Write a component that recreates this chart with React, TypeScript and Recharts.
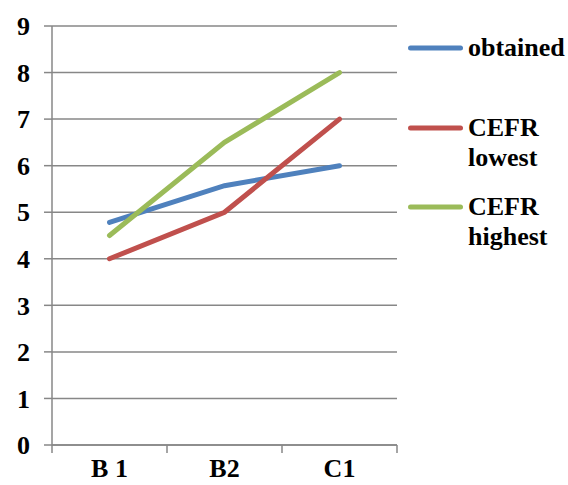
import React from "react";
import { LineChart, Line, XAxis, YAxis, CartesianGrid } from "recharts";

const levels = ["B 1", "B2", "C1"];
const obtained = [4.78, 5.57, 6.0];
const cefrLowest = [4, 5, 7];
const cefrHighest = [4.5, 6.5, 8];
const yTicks = [0, 1, 2, 3, 4, 5, 6, 7, 8, 9];

const series = [
  { key: "obtained", name: "obtained", color: "#4F81BD" },
  { key: "lowest", name: "CEFR lowest", color: "#C0504D" },
  { key: "highest", name: "CEFR highest", color: "#9BBB59" },
];

// each level sits in the middle of its band; band edges get the tick marks
const data = levels.map((level, i) => ({
  level,
  pos: i + 0.5,
  obtained: obtained[i],
  lowest: cefrLowest[i],
  highest: cefrHighest[i],
}));

const xTicks = [0, 0.5, 1, 1.5, 2, 2.5, 3];

const FONT = "'Liberation Serif', 'Times New Roman', serif";
const FONT_SIZE = 26;
const AXIS = "#878787";

const XTick = (props: any) => {
  const { x, y, payload } = props;
  const v = payload.value;
  // y comes in 8px below the axis line
  if (Number.isInteger(v)) {
    return <line x1={x} y1={y - 8} x2={x} y2={y} stroke={AXIS} strokeWidth={1.5} />;
  }
  const label = levels[Math.floor(v)];
  return (
    <text
      x={x}
      y={y + 24}
      textAnchor="middle"
      fontFamily={FONT}
      fontWeight="bold"
      fontSize={FONT_SIZE}
      fill="#000"
    >
      {label}
    </text>
  );
};

const ChartLegend = () => (
  <div style={{ position: "absolute", left: 404, top: 33, width: 164 }}>
    {series.map((s, i) => (
      <div
        key={s.key}
        style={{
          position: "absolute",
          top: i * 79.6,
          left: 0,
          display: "flex",
          alignItems: "flex-start",
        }}
      >
        <svg width={64} height={30} style={{ flex: "none" }}>
          <line x1={6.5} y1={15} x2={56.5} y2={15} stroke={s.color} strokeWidth={5} strokeLinecap="round" />
        </svg>
        <div
          style={{
            width: 100,
            fontFamily: FONT,
            fontWeight: "bold",
            fontSize: FONT_SIZE,
            lineHeight: "30px",
            color: "#000",
          }}
        >
          {s.name}
        </div>
      </div>
    ))}
  </div>
);

export default function App() {
  return (
    <div style={{ position: "absolute", left: 0, top: 0, width: 568, height: 485, background: "#fff", overflow: "hidden" }}>
      <LineChart
        width={568}
        height={485}
        data={data}
        margin={{ top: 26, right: 171, left: 0, bottom: 0 }}
      >
        <CartesianGrid vertical={false} stroke={AXIS} strokeWidth={1.5} />
        <XAxis
          dataKey="pos"
          type="number"
          domain={[0, 3]}
          ticks={xTicks}
          interval={0}
          height={40}
          stroke={AXIS}
          strokeWidth={1.5}
          tickLine={false}
          tick={<XTick />}
        />
        <YAxis
          domain={[0, 9]}
          ticks={yTicks}
          interval={0}
          width={52}
          stroke={AXIS}
          strokeWidth={1.5}
          tickSize={8}
          tickMargin={14}
          tick={{ fill: "#000", fontFamily: FONT, fontWeight: "bold", fontSize: FONT_SIZE }}
        />
        {series.map((s) => (
          <Line
            key={s.key}
            type="linear"
            dataKey={s.key}
            name={s.name}
            stroke={s.color}
            strokeWidth={5}
            strokeLinecap="round"
            dot={false}
            activeDot={false}
            isAnimationActive={false}
          />
        ))}
      </LineChart>
      <ChartLegend />
    </div>
  );
}
